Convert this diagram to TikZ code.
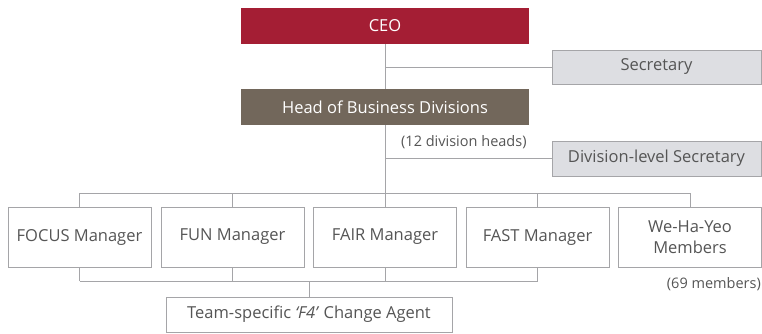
\documentclass[tikz,border=0pt]{standalone}
\usepackage{fontspec}
\setmainfont{Open Sans}
\usepackage{tikz}
\usetikzlibrary{positioning,calc}
\definecolor{ceored}{RGB}{164,30,52}
\definecolor{headbrown}{RGB}{114,103,91}
\definecolor{secfill}{RGB}{221,222,226}
\definecolor{boxline}{RGB}{165,165,168}
\definecolor{txtgray}{RGB}{85,85,85}
\begin{document}
\begin{tikzpicture}[x=1pt, y=-1pt,
    top/.style={draw=none, minimum width=288pt, minimum height=36pt,
                font=\fontsize{16.5}{19}\selectfont, text=white, inner sep=0pt},
    ceo/.style={top, fill=ceored},
    hd/.style={top, fill=headbrown},
    sec/.style={draw=boxline, fill=secfill, line width=1pt, minimum width=209pt,
                minimum height=34pt, font=\fontsize{16.5}{19}\selectfont,
                text=txtgray, inner sep=0pt},
    mgr/.style={draw=boxline, fill=white, line width=1pt, minimum width=143pt,
                minimum height=60pt, font=\fontsize{16.5}{21}\selectfont,
                text=txtgray, align=center, inner sep=0pt},
    agent/.style={mgr, minimum width=286pt, minimum height=35pt},
    note/.style={font=\fontsize{14.5}{17}\selectfont, text=txtgray, inner sep=0pt},
    link/.style={draw=boxline, line width=1pt}
]
\useasboundingbox (0,0) rectangle (762,333);
% top of the chart
\node[ceo] (ceo) at (385,26) {CEO};
\node[sec] (secr) at (656.5,67) {Secretary};
\node[hd] (head) at (385,107) {Head of Business Divisions};
\node[note, anchor=west] (heads) at (401,142) {(12 division heads)};
\node[sec, minimum height=35pt] (divsec) at (656.5,158.5) {Division-level Secretary};
% managers
\node[mgr] (focus) at (79.5,237) {FOCUS Manager};
\node[mgr] (fun) at (232.5,237) {FUN Manager};
\node[mgr] (fair) at (385,237) {FAIR Manager};
\node[mgr] (fast) at (537.5,237) {FAST Manager};
\node[mgr] (wehayeo) at (690,237) {We-Ha-Yeo\\Members};
\node[note, anchor=east] (members) at (761,284) {(69 members)};
\node[agent] (f4) at (309,314.5) {Team-specific \textit{`F4'} Change Agent};
% connectors
\coordinate (bus) at (385,193);
\coordinate (lowbus) at (309,281);
\draw[link] (ceo) -- (head);
\draw[link] (ceo.south |- secr.west) -- (secr.west);
\draw[link] (head.south) -- (bus);
\draw[link] (head.south |- divsec.west) -- (divsec.west);
\draw[link] (focus.north |- bus) -- (wehayeo.north |- bus);
\foreach \m in {focus,fun,fair,fast,wehayeo}
    \draw[link] (\m.north) -- (\m.north |- bus);
\foreach \m in {focus,fun,fair,fast}
    \draw[link] (\m.south) -- (\m.south |- lowbus);
\draw[link] (focus.south |- lowbus) -- (fast.south |- lowbus);
\draw[link] (lowbus) -- (f4.north);
\end{tikzpicture}
\end{document}
